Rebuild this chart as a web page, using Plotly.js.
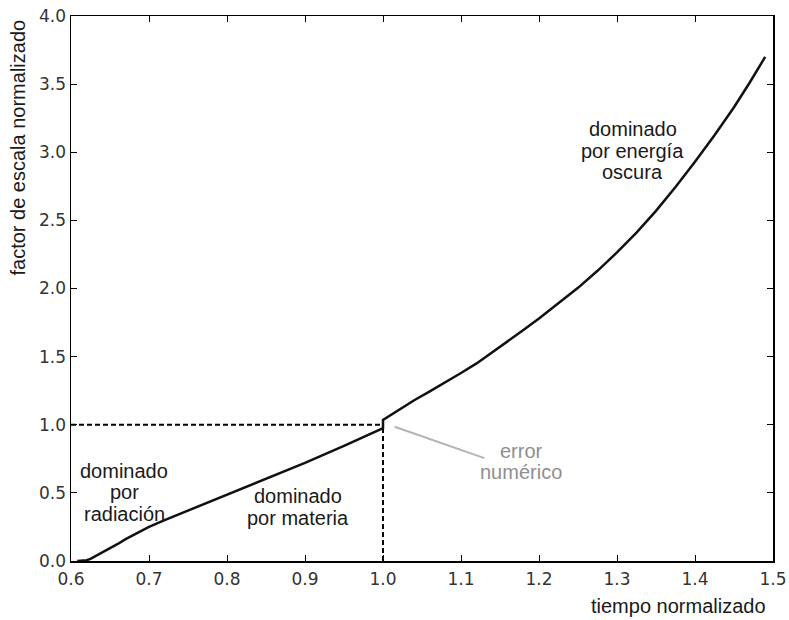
<!DOCTYPE html>
<html>
<head>
<meta charset="utf-8">
<script src="https://cdn.plot.ly/plotly-3.0.1.min.js"></script>
<style>html,body{margin:0;padding:0;background:#fff;}#chart{width:789px;height:620px;}</style>
</head>
<body>
<div id="chart"></div>
<script>
// Scale factor curve (normalized time vs normalized scale factor)
var tiempo = [0.608, 0.615, 0.62, 0.625, 0.63, 0.635, 0.64, 0.645, 0.65, 0.66, 0.67, 0.68, 0.69, 0.7,
              0.72, 0.75, 0.78, 0.8, 0.85, 0.9, 0.95, 1.0,
              1.0, 1.02, 1.04, 1.06, 1.08, 1.1, 1.12, 1.14, 1.16, 1.18, 1.2, 1.225, 1.25, 1.275,
              1.3, 1.325, 1.35, 1.375, 1.4, 1.425, 1.45, 1.47, 1.49];
var escala = [0.0, 0.002, 0.006, 0.015, 0.03, 0.045, 0.06, 0.076, 0.09, 0.125, 0.16, 0.19, 0.22, 0.25,
              0.3, 0.37, 0.44, 0.485, 0.6, 0.72, 0.845, 0.975,
              1.035, 1.11, 1.18, 1.245, 1.31, 1.38, 1.45, 1.53, 1.61, 1.695, 1.78, 1.89, 2.005, 2.13,
              2.265, 2.41, 2.57, 2.745, 2.93, 3.125, 3.33, 3.51, 3.70];
// Reference dashed lines at t=1, a=1
var refHx = [0.6, 1.0], refHy = [1.0, 1.0];
var refVx = [1.0, 1.0], refVy = [0.0, 1.0];
var xTicks = [0.6, 0.7, 0.8, 0.9, 1.0, 1.1, 1.2, 1.3, 1.4, 1.5];
var xTickText = ["0.6", "0.7", "0.8", "0.9", "1.0", "1.1", "1.2", "1.3", "1.4", "1.5"];
var yTicks = [0, 0.5, 1.0, 1.5, 2.0, 2.5, 3.0, 3.5, 4.0];
var yTickText = ["0.0", "0.5", "1.0", "1.5", "2.0", "2.5", "3.0", "3.5", "4.0"];
// Labels
var etiquetas = [
  {x: 0.668, y: 0.506, lines: ["dominado", "por", "radiación"], color: "#1a1a1a"},
  {x: 0.891, y: 0.396, lines: ["dominado", "por materia"], color: "#1a1a1a"},
  {x: 1.32, y: 3.01, lines: ["dominado", "por energía", "oscura"], color: "#1a1a1a"},
  {x: 1.177, y: 0.73, lines: ["error", "numérico"], color: "#8f8f8f"}
];
var errorLinea = {x0: 1.015, y0: 0.985, x1: 1.13, y1: 0.755};

var traces = [
  {x: refHx, y: refHy, mode: "lines", line: {color: "#000", width: 2, dash: "5px,3px"}, hoverinfo: "skip"},
  {x: refVx, y: refVy, mode: "lines", line: {color: "#000", width: 2, dash: "5px,3px"}, hoverinfo: "skip"},
  {x: tiempo, y: escala, mode: "lines", line: {color: "#111", width: 2.5}}
];

var fam = "Liberation Sans, Arial, sans-serif";
var labelFont = {family: fam, size: 20, color: "#1a1a1a"};
var lineGap = 21.5;
var annotations = [];
etiquetas.forEach(function (e) {
  var n = e.lines.length;
  e.lines.forEach(function (t, i) {
    annotations.push({x: e.x, y: e.y, xref: "x", yref: "y", text: t, showarrow: false,
      yshift: -(i - (n - 1) / 2) * lineGap, font: {family: fam, size: 20, color: e.color}});
  });
});
annotations.push({xref: "paper", yref: "paper", x: 0.866, y: -0.083, xanchor: "center", yanchor: "middle",
  text: "tiempo normalizado", showarrow: false, font: labelFont});
annotations.push({xref: "paper", yref: "paper", x: -0.076, y: 0.758, xanchor: "center", yanchor: "middle",
  text: "factor de escala normalizado", textangle: -90, showarrow: false, font: labelFont});

var tickFont = {family: "DejaVu Sans, sans-serif", size: 17, color: "#333"};
var layout = {
  width: 789, height: 620,
  margin: {l: 71, r: 16, t: 16, b: 59},
  paper_bgcolor: "#fff", plot_bgcolor: "#fff",
  showlegend: false,
  xaxis: {range: [0.6, 1.5], tickvals: xTicks, ticktext: xTickText, ticks: "inside", ticklen: 6,
          tickcolor: "#000", tickwidth: 1, showgrid: false, zeroline: false, showline: true,
          linecolor: "#000", linewidth: 1.5, mirror: "allticks", tickfont: tickFont, ticklabelstandoff: 2},
  yaxis: {range: [0, 4.0], tickvals: yTicks, ticktext: yTickText, ticks: "inside", ticklen: 6,
          tickcolor: "#000", tickwidth: 1, showgrid: false, zeroline: false, showline: true,
          linecolor: "#000", linewidth: 1.5, mirror: "allticks", tickfont: tickFont},
  shapes: [{type: "line", xref: "x", yref: "y", x0: errorLinea.x0, y0: errorLinea.y0,
            x1: errorLinea.x1, y1: errorLinea.y1, line: {color: "#b3b3b3", width: 2}}],
  annotations: annotations
};
Plotly.newPlot("chart", traces, layout, {displayModeBar: false, staticPlot: true});
</script>
</body>
</html>
